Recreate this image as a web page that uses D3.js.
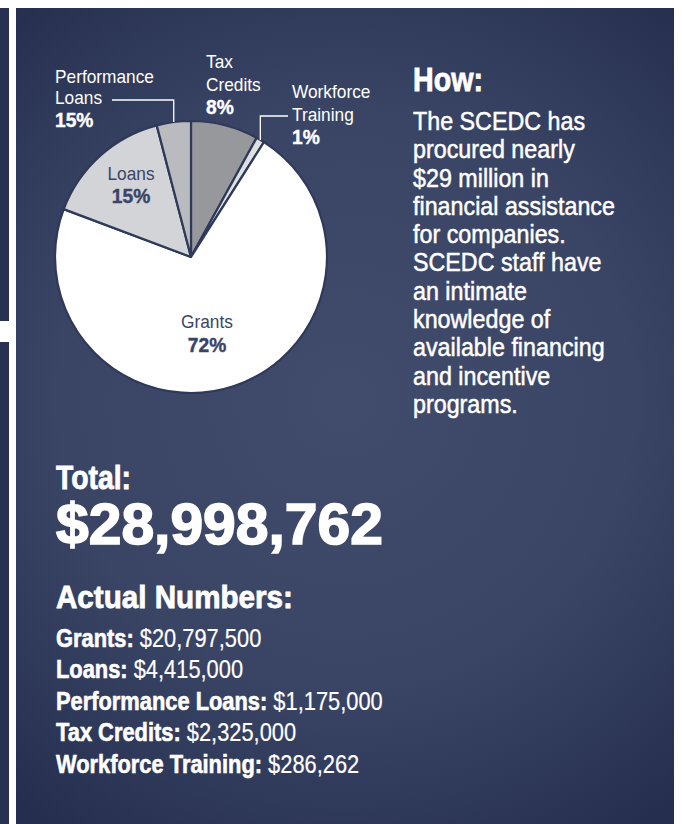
<!DOCTYPE html>
<html>
<head>
<meta charset="utf-8">
<script src="https://cdn.jsdelivr.net/npm/d3@7/dist/d3.min.js"></script>
<style>
  html, body { margin: 0; padding: 0; background: #ffffff; }
  svg { display: block; }
  text { font-family: "Liberation Sans", Arial, "Helvetica", sans-serif; }
</style>
</head>
<body>
<svg id="chart" width="682" height="824"></svg>
<script>
// ---- data ----
const categories = ["Tax Credits", "Workforce Training", "Grants", "Loans", "Performance Loans"];
const amounts = [2325000, 286262, 20797500, 4415000, 1175000];
const pctLabels = ["8%", "1%", "72%", "15%", "15%"];
const sliceColors = ["#97989c", "#dfe0e2", "#ffffff", "#d3d4d7", "#babbbf"];
const totalLabel = "$28,998,762";
const listOrder = ["Grants", "Loans", "Performance Loans", "Tax Credits", "Workforce Training"];
const listValues = ["$20,797,500", "$4,415,000", "$1,175,000", "$2,325,000", "$286,262"];
const howLines = ["The SCEDC has", "procured nearly", "$29  million in", "financial assistance",
  "for companies.", "SCEDC staff have", "an intimate", "knowledge of",
  "available financing", "and incentive", "programs."];

const svg = d3.select("#chart");
const defs = svg.append("defs");
const grad = defs.append("radialGradient").attr("id", "bg")
  .attr("gradientUnits", "userSpaceOnUse")
  .attr("cx", 345).attr("cy", 400).attr("r", 520);
grad.append("stop").attr("offset", "0%").attr("stop-color", "#414c6d");
grad.append("stop").attr("offset", "55%").attr("stop-color", "#3a4565");
grad.append("stop").attr("offset", "100%").attr("stop-color", "#252e4e");

// left strips
svg.append("rect").attr("x", 0).attr("y", 8).attr("width", 9).attr("height", 313).attr("fill", "#283152");
svg.append("rect").attr("x", 0).attr("y", 342).attr("width", 9).attr("height", 482).attr("fill", "#283152");
// main panel
svg.append("rect").attr("x", 16).attr("y", 8).attr("width", 658).attr("height", 816).attr("fill", "url(#bg)");

// helpers: horizontal condensing around an origin x
function squeeze(sel, f, ox) {
  sel.attr("transform", `translate(${ox},0) scale(${f},1) translate(${-ox},0)`);
}
function factorFor(sel, target) {
  return target / sel.node().getComputedTextLength();
}
function addText(parent, x, y, str, size, bold, color, anchor) {
  return parent.append("text").attr("x", x).attr("y", y).attr("fill", color)
    .attr("font-size", size).attr("font-weight", bold ? "bold" : "normal")
    .attr("text-anchor", anchor || "start").text(str);
}

// ---- pie ----
const cx = 191, cy = 257, R = 136;
const pie = d3.pie().sort(null).value(d => d).startAngle(0).endAngle(2 * Math.PI);
const arcs = pie(amounts);
const arc = d3.arc().innerRadius(0).outerRadius(R);
const g = svg.append("g").attr("transform", `translate(${cx},${cy})`);
g.selectAll("path").data(arcs).join("path")
  .attr("d", arc)
  .attr("fill", (d, i) => sliceColors[i])
  .attr("stroke", "#2f3959")
  .attr("stroke-width", 2.2)
  .attr("stroke-linejoin", "round");

function edgePoint(d) {
  const a = (d.startAngle + d.endAngle) / 2;
  return [cx + R * Math.sin(a), cy - R * Math.cos(a)];
}

const white = "#ffffff", navy = "#3a4467";
const lblG = svg.append("g");
// compute the condensing factor from "Performance"
const probe = addText(lblG, 55, 83, "Performance", 18, false, white);
const fLbl = factorFor(probe, 99);
squeeze(probe, fLbl, 55);

function labelLines(x, specs, color, anchor) {
  specs.forEach(s => {
    const t = addText(lblG, x, s.y, s.t, s.bold ? 20 : 18, s.bold, color, anchor);
    if (s.bold) t.attr("stroke", color).attr("stroke-width", 0.4);
    squeeze(t, fLbl, x);
  });
}
labelLines(55, [{t: "Loans", y: 104}, {t: pctLabels[4], y: 127, bold: true}], white);
labelLines(206, [{t: "Tax", y: 68}, {t: "Credits", y: 91}, {t: pctLabels[0], y: 114, bold: true}], white);
labelLines(292, [{t: "Workforce", y: 98}, {t: "Training", y: 121}, {t: pctLabels[1], y: 144, bold: true}], white);
labelLines(131, [{t: "Loans", y: 180}, {t: pctLabels[3], y: 203, bold: true}], navy, "middle");
labelLines(207, [{t: "Grants", y: 328}, {t: pctLabels[2], y: 352, bold: true}], navy, "middle");

// leader lines
const pl = edgePoint(arcs[4]);
svg.append("path").attr("d", `M${pl[0]},${pl[1]}V100H112`).attr("fill", "none")
  .attr("stroke", white).attr("stroke-width", 1.3);
const wf = edgePoint(arcs[1]);
svg.append("path").attr("d", `M${wf[0]},${wf[1]}V116H288`).attr("fill", "none")
  .attr("stroke", white).attr("stroke-width", 1.3);

// ---- right text ----
const how = addText(svg, 413, 91, "How:", 33, true, white).attr("stroke", white).attr("stroke-width", 0.8);
squeeze(how, factorFor(how, 70), 413);
const bodyG = svg.append("g");
const bodyTexts = bodyG.selectAll("text").data(howLines).join("text")
  .attr("x", 413).attr("y", (d, i) => 130 + i * 28.3)
  .attr("fill", white).attr("font-size", 25).attr("font-weight", "normal")
  .attr("stroke", white).attr("stroke-width", 0.5)
  .text(d => d);
const fBody = factorFor(bodyTexts.filter((d, i) => i === 3), 202);
bodyTexts.each(function () { squeeze(d3.select(this), fBody, 413); });

// ---- totals ----
const tot = addText(svg, 56, 489, "Total:", 33, true, white).attr("stroke", white).attr("stroke-width", 0.8);
squeeze(tot, factorFor(tot, 75), 56);
const big = addText(svg, 56, 544, totalLabel, 57, true, white).attr("stroke", white).attr("stroke-width", 1.6);
squeeze(big, factorFor(big, 327), 56);
const act = addText(svg, 56, 608, "Actual Numbers:", 31, true, white).attr("stroke", white).attr("stroke-width", 0.8);
squeeze(act, factorFor(act, 237), 56);

const list = svg.append("g");
const rows = listOrder.map((name, i) => {
  const t = list.append("text").attr("x", 56).attr("y", 647 + i * 31.5)
    .attr("fill", white).attr("font-size", 25);
  t.append("tspan").attr("font-weight", "bold").attr("stroke", white).attr("stroke-width", 0.6).text(name + ": ");
  t.append("tspan").attr("font-weight", "normal").attr("stroke", white).attr("stroke-width", 0.2).text(listValues[i]);
  return t;
});
const fList = factorFor(rows[2], 327);
rows.forEach(t => squeeze(t, fList, 56));
</script>
</body>
</html>
